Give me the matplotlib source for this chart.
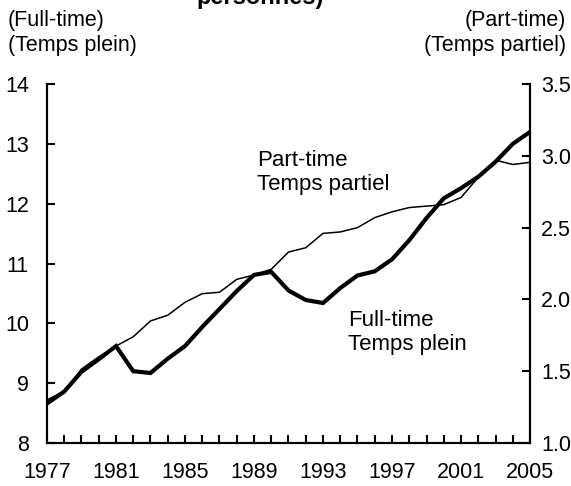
import matplotlib
matplotlib.use("Agg")
import matplotlib.pyplot as plt

plt.rcParams['font.family'] = ['Liberation Sans', 'DejaVu Sans']

# données
years = list(range(1977, 2006))
full_time = [8.66, 8.86, 9.19, 9.40, 9.62, 9.20, 9.17, 9.41, 9.62, 9.94,
             10.24, 10.54, 10.81, 10.86, 10.55, 10.39, 10.34, 10.59, 10.80, 10.87,
             11.07, 11.39, 11.76, 12.09, 12.26, 12.45, 12.70, 13.00, 13.20]
part_time = [1.30, 1.36, 1.515, 1.60, 1.675, 1.74, 1.85, 1.89, 1.98, 2.04,
             2.05, 2.14, 2.17, 2.21, 2.33, 2.36, 2.46, 2.47, 2.50, 2.57,
             2.61, 2.64, 2.65, 2.66, 2.71, 2.85, 2.97, 2.94, 2.955]
xtick_years = [1977, 1981, 1985, 1989, 1993, 1997, 2001, 2005]
left_ticks = [8, 9, 10, 11, 12, 13, 14]
right_ticks = [1.0, 1.5, 2.0, 2.5, 3.0, 3.5]

fig = plt.figure(figsize=(5.71, 4.86), dpi=100)
ax = fig.add_axes([0.0823, 0.0885, 0.8459, 0.7385])
ax2 = ax.twinx()

ax.plot(years, full_time, color='black', lw=3.0, solid_joinstyle='miter', zorder=3)
ax2.plot(years, part_time, color='black', lw=1.1, zorder=2)

ax.set_xlim(1977, 2005)
ax.set_ylim(8, 14)
ax2.set_ylim(1.0, 3.5)

ax.set_xticks(years, minor=True)
ax.set_xticks(xtick_years)
ax.set_xticklabels([str(y) for y in xtick_years])
ax.set_yticks(left_ticks)
ax2.set_yticks(right_ticks)
ax2.set_yticklabels([f"{v:.1f}" for v in right_ticks])

for a in (ax, ax2):
    a.spines['top'].set_visible(False)
    for s in ('left', 'right', 'bottom'):
        a.spines[s].set_linewidth(1.5)

fs = 15.5
ax.tick_params(axis='x', which='both', direction='in', length=6, width=1.5,
               labelsize=fs, pad=14)
ax.tick_params(axis='y', direction='in', length=6, width=1.5, labelsize=fs, pad=13)
ax2.tick_params(axis='y', direction='in', length=6, width=1.5, labelsize=fs, pad=8)

ax.text(1989.2, 12.52, "Part-time\nTemps partiel", fontsize=16, ha='left', va='center',
        linespacing=1.2)
ax.text(1994.45, 9.85, "Full-time\nTemps plein", fontsize=16, ha='left', va='center',
        linespacing=1.2)

fig.text(8 / 571, 1 - 56 / 486, "(Full-time)\n(Temps plein)", fontsize=fs,
         ha='left', va='bottom', linespacing=1.25)
fig.text(566 / 571, 1 - 56 / 486, "(Part-time)\n(Temps partiel)", fontsize=fs,
         ha='right', va='bottom', linespacing=1.25, multialignment='right')
fig.text(260 / 571, 1 - 4 / 486, "personnes)", fontsize=17, fontweight='bold',
         ha='center', va='baseline')

fig.savefig("out.png", dpi=100)
